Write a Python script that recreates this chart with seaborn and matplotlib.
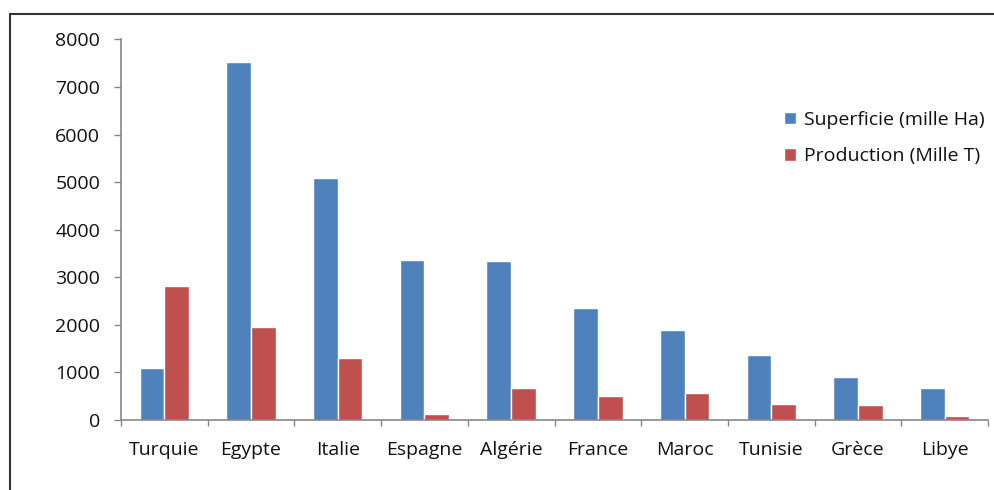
import matplotlib
matplotlib.use("Agg")
import matplotlib.pyplot as plt
from matplotlib.lines import Line2D
from matplotlib.ticker import FixedLocator
import seaborn as sns
import pandas as pd

# Données : superficie et production par pays
pays = ["Turquie", "Egypte", "Italie", "Espagne", "Algérie",
        "France", "Maroc", "Tunisie", "Grèce", "Libye"]
superficie = [1100, 7530, 5090, 3360, 3340, 2350, 1890, 1370, 900, 670]
production = [2820, 1960, 1300, 120, 670, 510, 560, 340, 320, 90]
series = ["Superficie (mille Ha)", "Production (Mille T)"]
couleurs = ["#4F81BD", "#C0504D"]
graduations_y = [0, 1000, 2000, 3000, 4000, 5000, 6000, 7000, 8000]

df = pd.DataFrame({
    "Pays": pays * 2,
    "Valeur": superficie + production,
    "Série": [series[0]] * len(pays) + [series[1]] * len(pays),
})

sns.set_theme(style="white")
plt.rcParams["font.family"] = ["Open Sans", "DejaVu Sans"]

W, H = 995, 490
fig = plt.figure(figsize=(W / 100, H / 100), dpi=100)
fig.patch.set_facecolor("white")

# Axe principal (coordonnées en pixels converties en fractions)
x0, x1, y_bas, y_haut = 121, 988, 420, 39.5
ax = fig.add_axes([x0 / W, (H - y_bas) / H, (x1 - x0) / W, (y_bas - y_haut) / H])

sns.barplot(data=df, x="Pays", y="Valeur", hue="Série", order=pays,
            hue_order=series, palette=couleurs, width=0.57, saturation=1,
            ax=ax, legend=True)

ax.set_xlim(-0.5, len(pays) - 0.5)
ax.set_ylim(0, 8000)
ax.set_xlabel("")
ax.set_ylabel("")

gris = "#868686"
for side in ["top", "right"]:
    ax.spines[side].set_visible(False)
for side in ["left", "bottom"]:
    ax.spines[side].set_color(gris)
    ax.spines[side].set_linewidth(1.2)

texte = "#111111"
ax.set_yticks(graduations_y)
ax.set_yticklabels([str(v) for v in graduations_y])
ax.tick_params(axis="y", which="major", direction="out", length=5, width=1,
               color=gris, pad=10, labelsize=14, labelcolor=texte, left=True)

# Étiquettes des pays au centre, petites graduations entre les catégories
ax.set_xticks(range(len(pays)))
ax.set_xticklabels(pays)
ax.xaxis.set_minor_locator(FixedLocator([i - 0.5 for i in range(len(pays) + 1)]))
ax.tick_params(axis="x", which="major", length=0, pad=15, labelsize=14,
               labelcolor=texte, bottom=True)
ax.tick_params(axis="x", which="minor", direction="out", length=4.5, width=1,
               color=gris, bottom=True)

leg = ax.legend(loc="upper left", bbox_to_anchor=(784 / W, (H - 111) / H),
                bbox_transform=fig.transFigure, frameon=False, fontsize=14,
                handlelength=0.6, handleheight=0.6, handletextpad=0.45,
                labelspacing=0.95, borderpad=0, borderaxespad=0)
for t in leg.get_texts():
    t.set_color(texte)

# Cadre extérieur
fig.add_artist(Line2D([10 / W, 995 / W], [(H - 14) / H] * 2, color="#333333",
                      lw=1.5, transform=fig.transFigure))
fig.add_artist(Line2D([10 / W] * 2, [0, (H - 14) / H], color="#333333",
                      lw=1.5, transform=fig.transFigure))

fig.savefig("out.png", dpi=100, facecolor="white")
